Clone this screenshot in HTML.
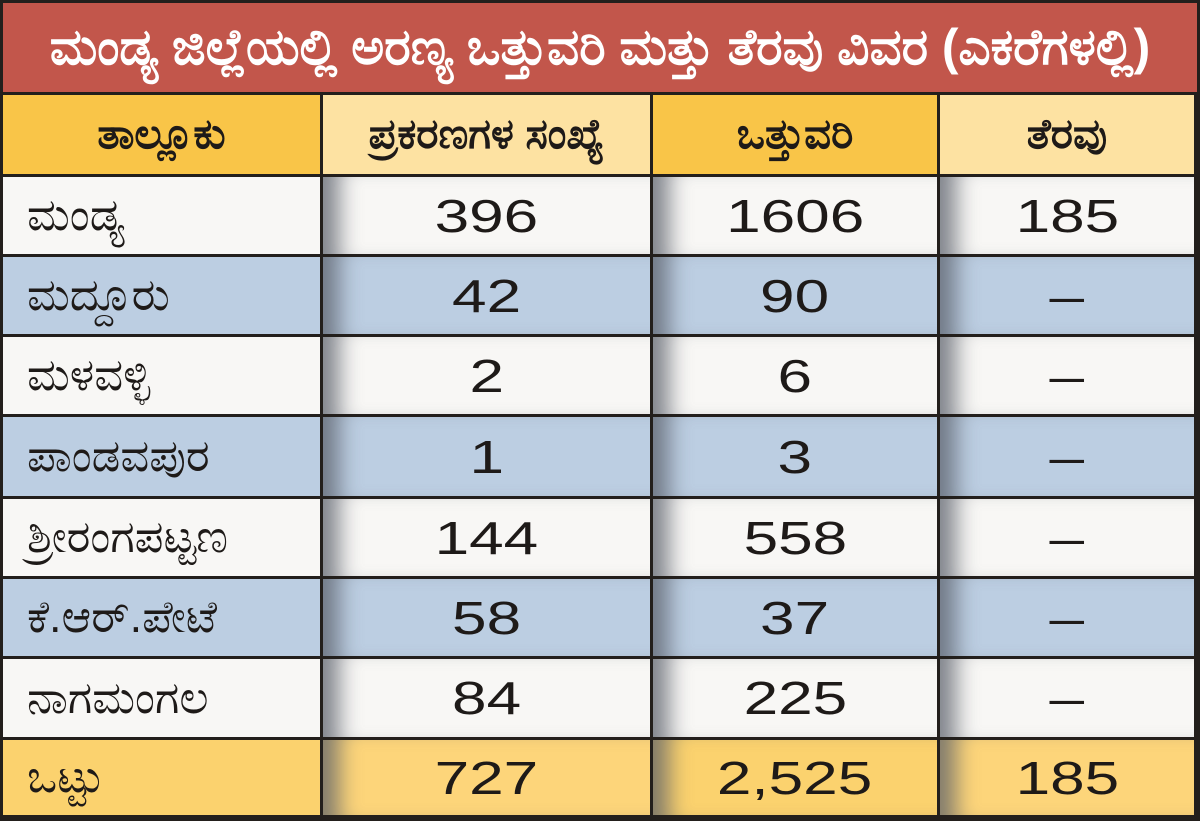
<!DOCTYPE html>
<html><head><meta charset="utf-8"><style>
html,body{margin:0;padding:0;width:1200px;height:821px;overflow:hidden;background:#1e1a18;}
#wrap{position:absolute;left:0;top:0;width:1200px;height:821px;background:#231f1c;}
.title{position:absolute;left:3px;top:3px;width:1194px;height:89px;background:#c2564b;color:#fff;font:bold 50px "Liberation Sans","Noto Sans CJK SC",sans-serif;display:flex;align-items:center;justify-content:center;}
.cell{position:absolute;display:flex;align-items:center;justify-content:center;font:46px "Liberation Sans","Noto Sans CJK SC",sans-serif;color:#1e1a18;box-sizing:border-box;}
.cell span{display:inline-block;transform:scaleX(1.35);}
.lab{justify-content:flex-start;padding-left:24px;font-size:45px;}
.lab span{transform:none;}
.hdr{font-weight:bold;font-size:42px;}
.hdr span{transform:none;}
.sh{box-shadow:inset 30px 0 22px -14px rgba(90,95,105,.75);}
</style></head><body>
<div id="wrap">
<div class="title">ಮಂಡ್ಯ ಜಿಲ್ಲೆಯಲ್ಲಿ ಅರಣ್ಯ ಒತ್ತುವರಿ ಮತ್ತು ತೆರವು ವಿವರ (ಎಕರೆಗಳಲ್ಲಿ)</div>
<div id="grid"></div>
</div>
<script>
const taluks=["ಮಂಡ್ಯ","ಮದ್ದೂರು","ಮಳವಳ್ಳಿ","ಪಾಂಡವಪುರ","ಶ್ರೀರಂಗಪಟ್ಟಣ","ಕೆ.ಆರ್.ಪೇಟೆ","ನಾಗಮಂಗಲ"];
const cases=["396","42","2","1","144","58","84"];
const encroach=["1606","90","6","3","558","37","225"];
const cleared=["185","–","–","–","–","–","–"];
const totals=["ಒಟ್ಟು","727","2,525","185"];
const headers=["ತಾಲ್ಲೂಕು","ಪ್ರಕರಣಗಳ ಸಂಖ್ಯೆ","ಒತ್ತುವರಿ","ತೆರವು"];
const colX=[3,323,653,940,1197];
const rowY=[95,177,257,337,417,499,579,659,740,818];
const g=document.getElementById('grid');
function cell(txt,c,r,bg,cls,name){
  const d=document.createElement('div');
  
  
  d.className='cell '+cls;
  d.style.left=colX[c]+'px';d.style.top=rowY[r]+'px';
  d.style.width=(colX[c+1]-colX[c]-3)+'px';d.style.height=(rowY[r+1]-rowY[r]-3)+'px';
  d.style.background=bg;
  const s=document.createElement('span');s.textContent=txt;d.appendChild(s);
  g.appendChild(d);
}
const hbg=["#f9c548","#fde2a2","#f9c548","#fde2a2"];
headers.forEach((h,i)=>cell(h,i,0,hbg[i],'hdr','header-'+i));
taluks.forEach((t,i)=>{
  const bg=i%2?"#bccee2":"#f8f7f5";
  cell(t,0,i+1,bg,'lab','taluk-'+i);
  cell(cases[i],1,i+1,bg,'sh','cases-'+i);
  cell(encroach[i],2,i+1,bg,'sh','encroachment-'+i);
  cell(cleared[i],3,i+1,bg,'sh','cleared-'+i);
});
const tbg=["#fbd26e","#fdd57a","#fbd26e","#fdd57a"];
totals.forEach((t,i)=>cell(t,i,8,tbg[i],i?'sh':'lab','total-'+i));
</script>
</body></html>
